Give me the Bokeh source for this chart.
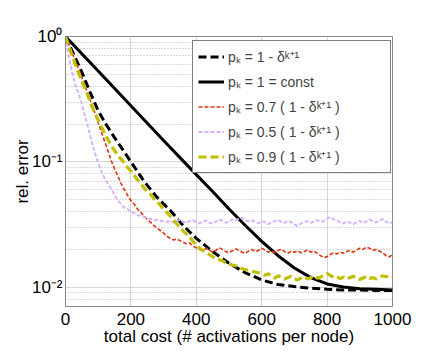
from bokeh.plotting import figure
from bokeh.models import Range1d, FixedTicker, CustomJSTickFormatter, Legend, LegendItem
from bokeh.embed import file_html
from bokeh.resources import INLINE

# ---------------- data ----------------
x_ticks = [0, 200, 400, 600, 800, 1000]
y_ticks = [0.01, 0.1, 1.0]
y_minor = [0.008, 0.009, 0.02, 0.03, 0.04, 0.05, 0.06, 0.07, 0.08, 0.09,
           0.2, 0.3, 0.4, 0.5, 0.6, 0.7, 0.8, 0.9]

labels = ["pₖ = 1 - δᵏ⁺¹", "pₖ = 1 = const", "pₖ = 0.7 ( 1 - δᵏ⁺¹ )",
          "pₖ = 0.5 ( 1 - δᵏ⁺¹ )", "pₖ = 0.9 ( 1 - δᵏ⁺¹ )"]

# p_k = 1 - delta^(k+1)  (black dashed)
x_dash = [0, 25, 50, 75, 100, 125, 150, 175, 200, 240, 280, 320, 360, 400, 450,
          500, 550, 600, 650, 700, 750, 800, 850, 900, 950, 1000]
y_dash = [1.0, 0.72, 0.52, 0.36, 0.255, 0.197, 0.156, 0.125, 0.1, 0.07, 0.052,
          0.041, 0.031, 0.0245, 0.0192, 0.0155, 0.013, 0.0114, 0.0105, 0.0101,
          0.0098, 0.0096, 0.0095, 0.0095, 0.0094, 0.0094]

# p_k = 1 = const (black solid)
x_const = [0, 100, 200, 300, 350, 400, 450, 500, 550, 600, 650, 700, 750, 800,
           850, 900, 950, 1000]
y_const = [1.0, 0.53, 0.28, 0.148, 0.108, 0.079, 0.058, 0.042, 0.031, 0.0232,
           0.0178, 0.0142, 0.0119, 0.0106, 0.0100, 0.0097, 0.0096, 0.0095]

# p_k = 0.7 (1 - delta^(k+1)) (red)
x_red = list(range(0, 1001, 10))
y_red = [1.0, 0.87, 0.75, 0.64, 0.55, 0.47, 0.40, 0.34, 0.29, 0.245,
         0.205, 0.172, 0.145, 0.122, 0.102, 0.088, 0.077, 0.067, 0.060, 0.054,
         0.049, 0.046, 0.042, 0.0395, 0.037, 0.0345, 0.033, 0.031, 0.0295, 0.0283,
         0.027, 0.0255, 0.0245, 0.0238, 0.0242, 0.0235, 0.0228, 0.0222, 0.0225, 0.0212,
         0.0206, 0.0200, 0.0196, 0.0204, 0.0198, 0.0190, 0.0196, 0.0206, 0.0200, 0.0192,
         0.0188, 0.0195, 0.0202, 0.0196, 0.0190, 0.0186, 0.0194, 0.0200, 0.0192, 0.0196,
         0.0204, 0.0198, 0.0190, 0.0194, 0.0188, 0.0196, 0.0200, 0.0192, 0.0186, 0.0194,
         0.0190, 0.0195, 0.0188, 0.0192, 0.0198, 0.0190, 0.0194, 0.0186, 0.0178, 0.0172,
         0.0175, 0.0182, 0.0188, 0.0184, 0.0190, 0.0186, 0.0192, 0.0196, 0.0190, 0.0198,
         0.0204, 0.0200, 0.0208, 0.0204, 0.0196, 0.0200, 0.0194, 0.0188, 0.0178, 0.0174,
         0.0182]

# p_k = 0.5 (1 - delta^(k+1)) (lavender)
x_lav = list(range(0, 1001, 10))
y_lav = [1.0, 0.68, 0.52, 0.41, 0.35, 0.29, 0.23, 0.185, 0.145, 0.118,
         0.097, 0.083, 0.074, 0.066, 0.061, 0.054, 0.049, 0.046, 0.043, 0.042,
         0.0395, 0.039, 0.0375, 0.037, 0.036, 0.0355, 0.035, 0.0342, 0.0345, 0.0338,
         0.0335, 0.0330, 0.0340, 0.0328, 0.0336, 0.0345, 0.0332, 0.0325, 0.0338, 0.0342,
         0.0330, 0.0322, 0.0335, 0.0340, 0.0328, 0.0320, 0.0334, 0.0345, 0.0338, 0.0326,
         0.0333, 0.0348, 0.0340, 0.0352, 0.0360, 0.0342, 0.0335, 0.0340, 0.0330, 0.0324,
         0.0336, 0.0330, 0.0318, 0.0328, 0.0336, 0.0344, 0.0332, 0.0325, 0.0338, 0.0330,
         0.0316, 0.0308, 0.0322, 0.0330, 0.0336, 0.0326, 0.0334, 0.0342, 0.0330, 0.0338,
         0.0352, 0.0362, 0.0348, 0.0340, 0.0330, 0.0322, 0.0335, 0.0328, 0.0318, 0.0330,
         0.0338, 0.0326, 0.0334, 0.0345, 0.0336, 0.0328, 0.0340, 0.0350, 0.0334, 0.0322,
         0.0330]

# p_k = 0.9 (1 - delta^(k+1)) (olive)
x_oli = list(range(0, 1001, 10))
y_oli = [1.0, 0.84, 0.71, 0.60, 0.51, 0.44, 0.38, 0.33, 0.28, 0.245,
         0.215, 0.19, 0.168, 0.15, 0.135, 0.123, 0.113, 0.105, 0.098, 0.09,
         0.084, 0.078, 0.072, 0.067, 0.062, 0.058, 0.055, 0.051, 0.048, 0.045,
         0.042, 0.0395, 0.037, 0.0345, 0.032, 0.030, 0.028, 0.0265, 0.025, 0.0232,
         0.0215, 0.0205, 0.0196, 0.0189, 0.0182, 0.0175, 0.0168, 0.0165, 0.0162, 0.0157,
         0.0153, 0.0150, 0.0148, 0.0144, 0.0140, 0.0138, 0.0136, 0.0134, 0.0132, 0.0130,
         0.0128, 0.0124, 0.0128, 0.0122, 0.0118, 0.0123, 0.0120, 0.0116, 0.0119, 0.0122,
         0.0117, 0.0114, 0.0118, 0.0121, 0.0116, 0.0119, 0.0123, 0.0118, 0.0120, 0.0126,
         0.0128, 0.0124, 0.0119, 0.0121, 0.0117, 0.0120, 0.0116, 0.0119, 0.0122, 0.0118,
         0.0115, 0.0118, 0.0121, 0.0117, 0.0119, 0.0116, 0.0120, 0.0123, 0.0121, 0.0124,
         0.0122]

# ---------------- figure ----------------
FONT = "Liberation Sans"
p = figure(width=440, height=356, y_axis_type="log",
           x_range=Range1d(0, 1000), y_range=Range1d(0.007, 1.0),
           output_backend="svg", toolbar_location=None,
           min_border_left=65, min_border_right=48,
           min_border_top=36, min_border_bottom=50)
p.outline_line_color = "#888888"
p.outline_line_width = 1

r_dash = p.line(x_dash, y_dash, line_color="black", line_width=3, line_dash="8 4")
r_const = p.line(x_const, y_const, line_color="black", line_width=3)
r_red = p.line(x_red, y_red, line_color="#e2340c", line_width=1.6, line_dash="4 2")
r_lav = p.line(x_lav, y_lav, line_color="#d6b4fa", line_width=2, line_dash="4 2")
r_oli = p.line(x_oli, y_oli, line_color="#c2be00", line_width=3.2, line_dash="8 4")

# axes
p.xaxis.ticker = FixedTicker(ticks=x_ticks)
yt = FixedTicker(ticks=y_ticks, minor_ticks=y_minor)
p.yaxis.ticker = yt
p.ygrid.ticker = yt
p.yaxis.formatter = CustomJSTickFormatter(code="""
const e = Math.round(Math.log10(tick));
const m = {"0":"\\u2070","1":"\\u00b9","2":"\\u00b2","3":"\\u00b3","-":"\\u207b"};
return "10" + String(e).split("").map(c => m[c]).join("");
""")
for ax in (p.xaxis[0], p.yaxis[0]):
    ax.axis_line_color = "#888888"
    ax.major_tick_line_color = None
    ax.minor_tick_line_color = None
    ax.major_tick_out = 0
    ax.major_tick_in = 0
    ax.minor_tick_out = 0
    ax.minor_tick_in = 0
    ax.major_label_text_font = FONT
    ax.major_label_text_font_size = "17px"
    ax.major_label_text_color = "black"
    ax.axis_label_text_font = FONT
    ax.axis_label_text_font_size = "17px"
    ax.axis_label_text_font_style = "normal"
    ax.axis_label_text_color = "black"
p.xaxis.major_label_standoff = 6
p.yaxis.major_label_standoff = 3
p.xaxis.axis_label_standoff = -1
p.yaxis.axis_label_standoff = -3
p.xaxis.axis_label = "total cost (# activations per node)"
p.yaxis.axis_label = "rel. error"

p.xgrid.grid_line_color = "#d6d6d6"
p.ygrid.grid_line_color = "#d6d6d6"
p.ygrid.minor_grid_line_color = "#b4b4b4"
p.ygrid.minor_grid_line_dash = "1 2"

legend = Legend(items=[
    LegendItem(label=labels[0], renderers=[r_dash]),
    LegendItem(label=labels[1], renderers=[r_const]),
    LegendItem(label=labels[2], renderers=[r_red]),
    LegendItem(label=labels[3], renderers=[r_lav]),
    LegendItem(label=labels[4], renderers=[r_oli]),
], location=(127, 133))
legend.border_line_color = "black"
legend.border_line_width = 1
legend.background_fill_color = "white"
legend.background_fill_alpha = 1.0
legend.label_text_font = FONT
legend.label_text_font_size = "14px"
legend.glyph_width = 26
legend.glyph_height = 21
legend.label_height = 21
legend.label_standoff = 4
legend.label_width = 157
legend.padding = 5
legend.spacing = 4
legend.margin = 0
p.add_layout(legend, "center")

open("out.html", "w").write(file_html(p, INLINE))
